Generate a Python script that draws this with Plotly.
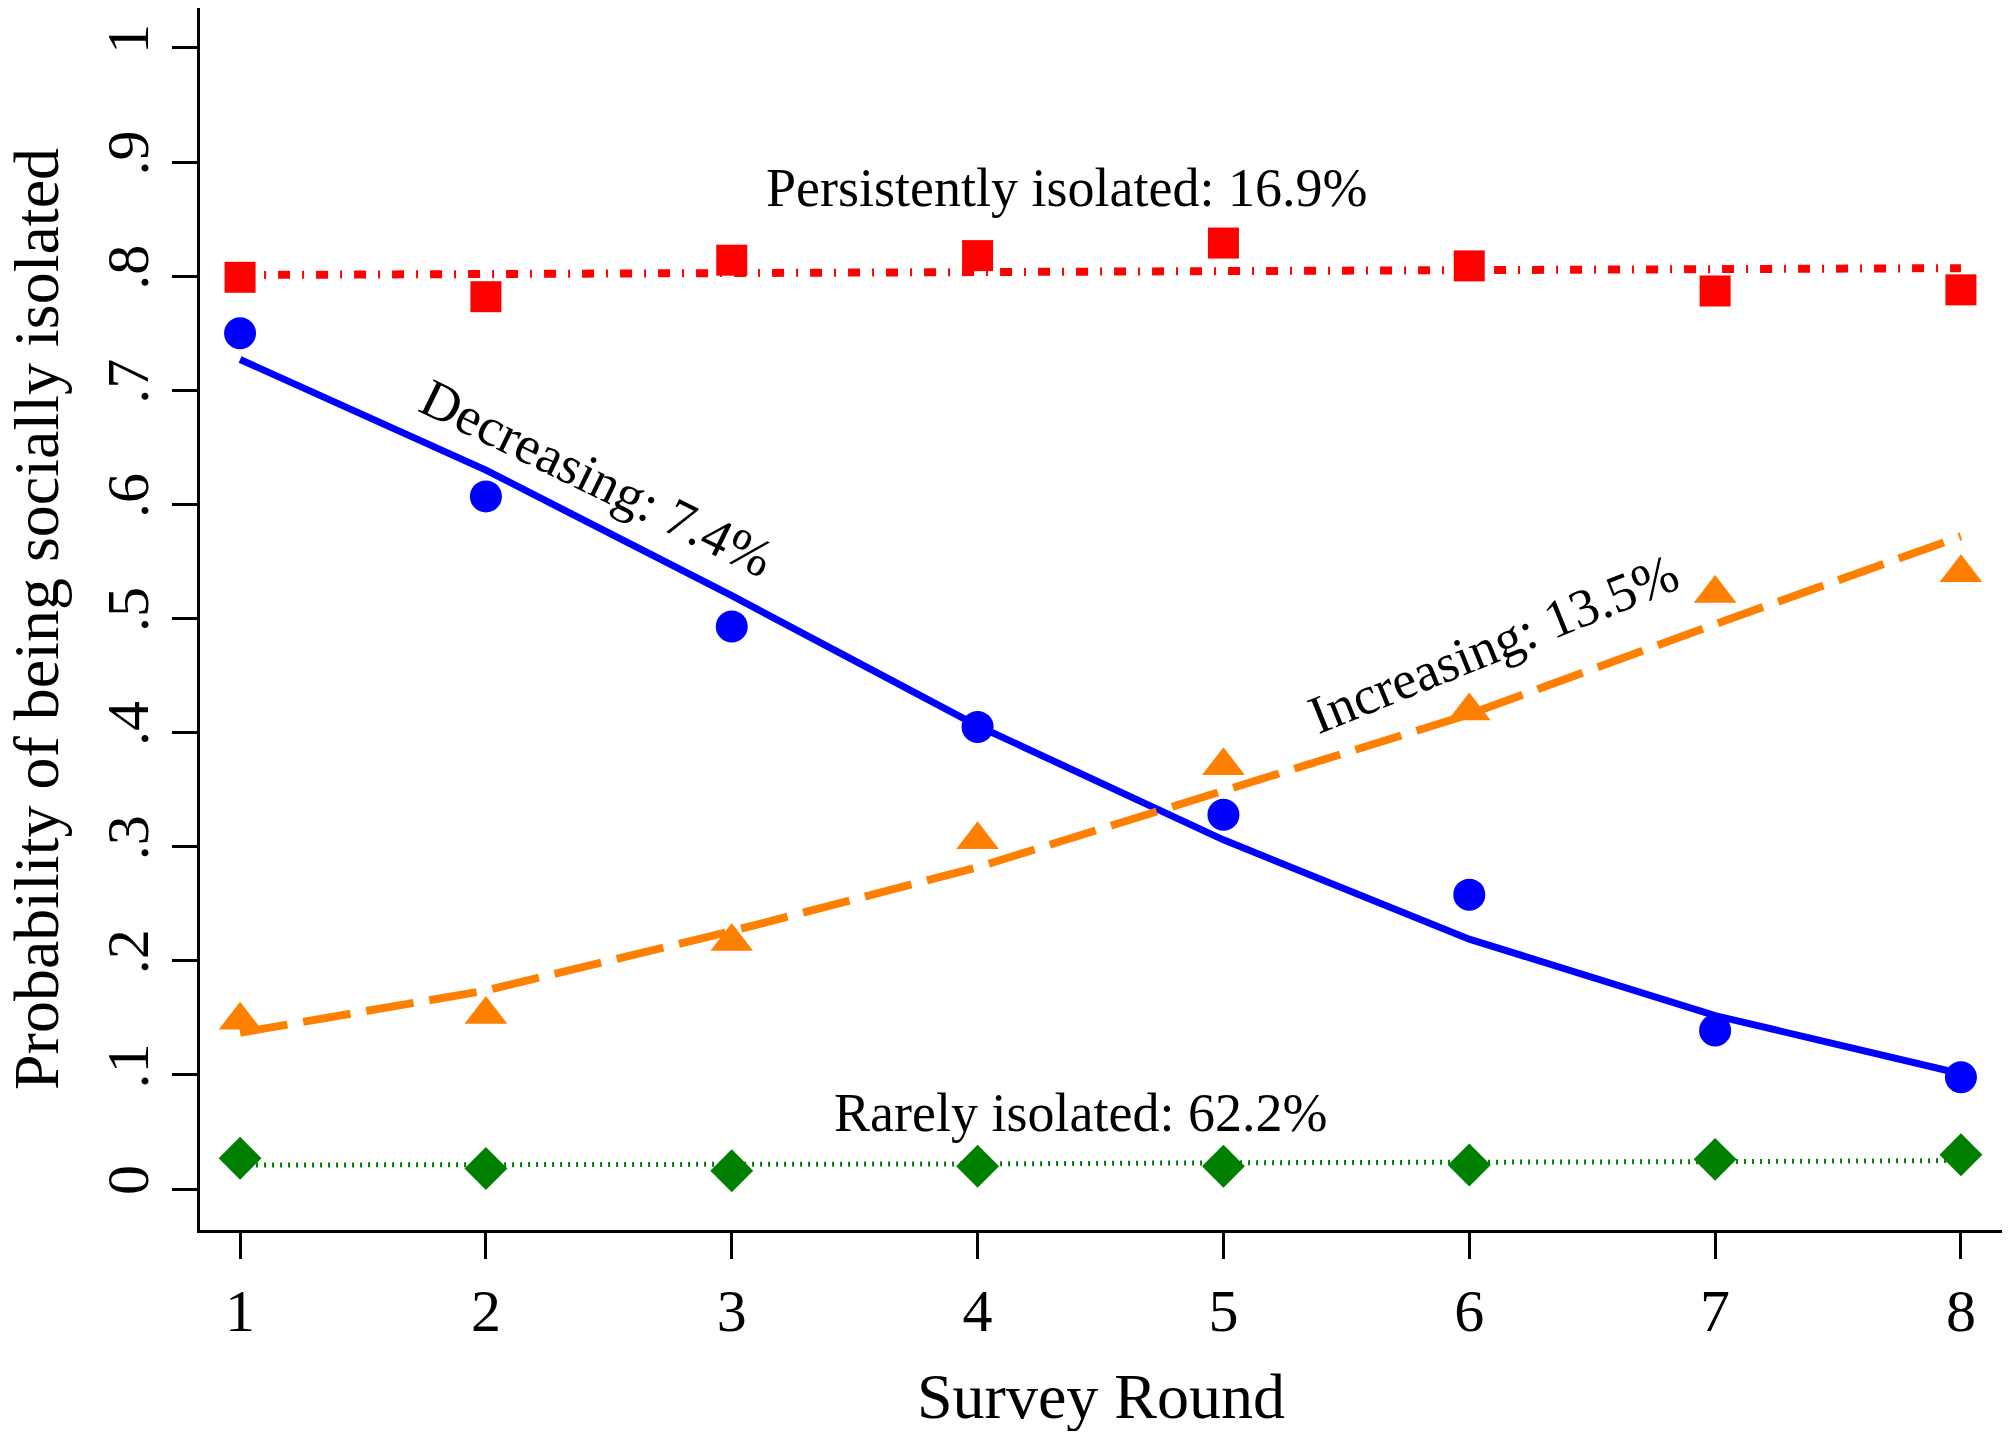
import plotly.graph_objects as go

rounds = [1, 2, 3, 4, 5, 6, 7, 8]
x_ticklabels = ["1", "2", "3", "4", "5", "6", "7", "8"]
y_tickvals = [0, 0.1, 0.2, 0.3, 0.4, 0.5, 0.6, 0.7, 0.8, 0.9, 1.0]
y_ticklabels = ["0", ".1", ".2", ".3", ".4", ".5", ".6", ".7", ".8", ".9", "1"]

# observed proportions (markers)
persistent_obs = [0.799, 0.782, 0.814, 0.818, 0.829, 0.809, 0.787, 0.788]
decreasing_obs = [0.750, 0.607, 0.493, 0.405, 0.328, 0.258, 0.139, 0.098]
increasing_obs = [0.148, 0.153, 0.217, 0.306, 0.371, 0.419, 0.522, 0.540]
rarely_obs = [0.027, 0.018, 0.016, 0.020, 0.020, 0.021, 0.026, 0.030]

# predicted trajectories (lines)
persistent_fit = [0.801, 0.802, 0.803, 0.804, 0.805, 0.806, 0.806, 0.807]
decreasing_fit = [0.727, 0.630, 0.520, 0.406, 0.306, 0.219, 0.152, 0.101]
increasing_fit = [0.137, 0.174, 0.226, 0.282, 0.349, 0.416, 0.495, 0.572]
rarely_fit = [0.021, 0.021, 0.022, 0.022, 0.023, 0.023, 0.024, 0.025]

labels = ["Persistently isolated: 16.9%", "Decreasing: 7.4%",
          "Increasing: 13.5%", "Rarely isolated: 62.2%"]

RED = "#FF0000"
BLUE = "#0000FF"
ORANGE = "#FF8000"
GREEN = "#008000"
FONT = "Liberation Serif, Times New Roman, serif"

fig = go.Figure()

# lines
fig.add_trace(go.Scatter(x=rounds, y=persistent_fit, mode="lines",
                         line=dict(color=RED, width=8, dash="12px,12px,2px,12px"),
                         showlegend=False, hoverinfo="skip"))
fig.add_trace(go.Scatter(x=rounds, y=decreasing_fit, mode="lines",
                         line=dict(color=BLUE, width=7),
                         showlegend=False, hoverinfo="skip"))
fig.add_trace(go.Scatter(x=rounds, y=increasing_fit, mode="lines",
                         line=dict(color=ORANGE, width=8, dash="48px,16px"),
                         showlegend=False, hoverinfo="skip"))
fig.add_trace(go.Scatter(x=rounds, y=rarely_fit, mode="lines",
                         line=dict(color=GREEN, width=5, dash="2px,6px"),
                         showlegend=False, hoverinfo="skip"))

# markers
fig.add_trace(go.Scatter(x=rounds, y=persistent_obs, mode="markers",
                         marker=dict(symbol="square", size=31, color=RED),
                         showlegend=False))
fig.add_trace(go.Scatter(x=rounds, y=decreasing_obs, mode="markers",
                         marker=dict(symbol="circle", size=32, color=BLUE),
                         showlegend=False))
fig.add_trace(go.Scatter(x=rounds, y=increasing_obs, mode="markers",
                         marker=dict(symbol="triangle-up", size=37, color=ORANGE),
                         showlegend=False))
fig.add_trace(go.Scatter(x=rounds, y=rarely_obs, mode="markers",
                         marker=dict(symbol="diamond", size=33, color=GREEN),
                         showlegend=False))

ann_font = dict(family=FONT, size=54, color="black")
fig.add_annotation(x=4.36, y=0.877, text=labels[0], showarrow=False, font=ann_font)
fig.add_annotation(x=2.45, y=0.623, text=labels[1], showarrow=False, font=ann_font,
                   textangle=26)
fig.add_annotation(x=6.10, y=0.478, text=labels[2], showarrow=False, font=ann_font,
                   textangle=-22)
fig.add_annotation(x=4.42, y=0.067, text=labels[3], showarrow=False, font=ann_font)

# axis titles
fig.add_annotation(xref="paper", yref="paper", x=-0.091, y=0.5,
                   text="Probability of being socially isolated", showarrow=False,
                   textangle=-90, xanchor="center", yanchor="middle",
                   font=dict(family=FONT, size=64, color="black"))
fig.add_annotation(xref="paper", yref="paper", x=0.5, y=-0.1366,
                   text="Survey Round", showarrow=False,
                   xanchor="center", yanchor="middle",
                   font=dict(family=FONT, size=64, color="black"))

# the page body adds an 8px margin, so the figure is sized to fit the window
fig.update_layout(
    width=1994, height=1423,
    margin=dict(l=192, r=0, t=0, b=201, autoexpand=False),
    plot_bgcolor="white", paper_bgcolor="white",
    showlegend=False,
    font=dict(family=FONT, color="black"),
)
fig.update_xaxes(range=[0.837, 8.167], tickvals=rounds, ticktext=x_ticklabels,
                 automargin=False,
                 showgrid=False, zeroline=False, showline=True, linecolor="black",
                 linewidth=3, ticks="outside", ticklen=26, tickwidth=3,
                 tickcolor="black", tickfont=dict(family=FONT, size=60, color="black"))
fig.update_yaxes(range=[-0.0359, 1.035], tickvals=y_tickvals, ticktext=y_ticklabels,
                 automargin=False,
                 showgrid=False, zeroline=False, showline=True, linecolor="black",
                 linewidth=3, ticks="outside", ticklen=25, tickwidth=3,
                 tickcolor="black", tickangle=-90,
                 tickfont=dict(family=FONT, size=60, color="black"))

fig.write_html("out.html")
